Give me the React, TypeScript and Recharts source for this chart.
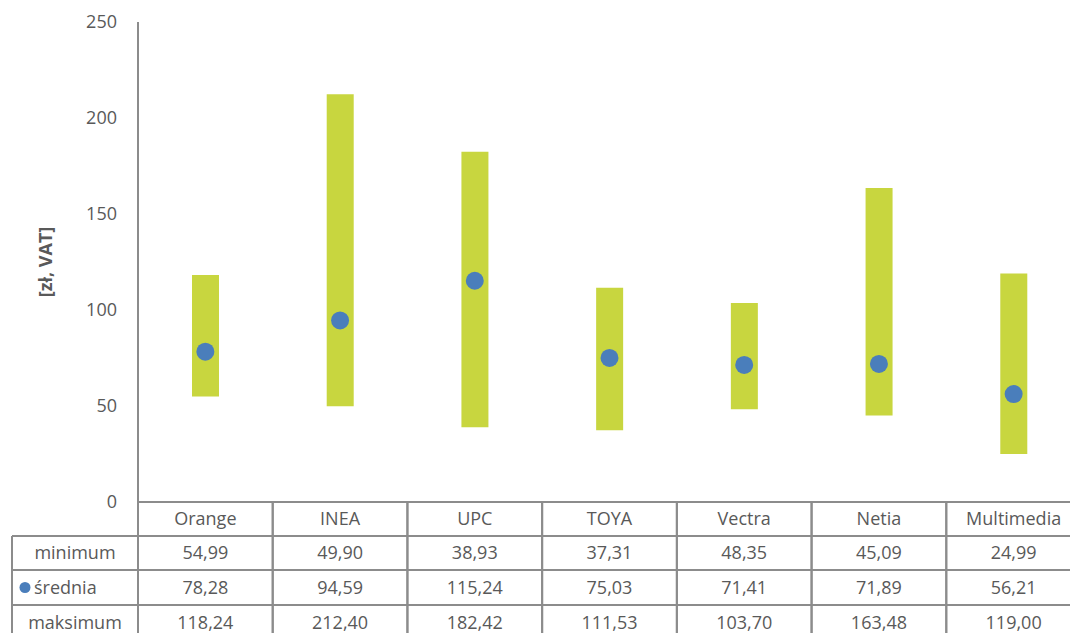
import { ComposedChart, Bar, Scatter, XAxis, YAxis, Label } from "recharts"

const operators = ["Orange", "INEA", "UPC", "TOYA", "Vectra", "Netia", "Multimedia"]
const minimum = [54.99, 49.9, 38.93, 37.31, 48.35, 45.09, 24.99]
const srednia = [78.28, 94.59, 115.24, 75.03, 71.41, 71.89, 56.21]
const maksimum = [118.24, 212.4, 182.42, 111.53, 103.7, 163.48, 119.0]
const yTicks = [0, 50, 100, 150, 200, 250]
const rowNames = ["minimum", "średnia", "maksimum"]

const GREEN = "#C8D63F"
const BLUE = "#4A7EBB"
const GRID = "#8C8C8C"
const TEXT = "#595959"
const FONT = "'Open Sans', sans-serif"
const FS = 18

const data = operators.map((name, i) => ({
  name,
  range: [minimum[i], maksimum[i]],
  mean: srednia[i],
}))

const fmt = (v: number) => v.toFixed(2).replace(".", ",")

// table rows under the plot (y of each horizontal line)
const AXIS_Y = 502
const ROW_LINES = [536, 570, 605, 640]
const LEFT_X = 12

function TableTick(props: any) {
  const { x, payload } = props
  const i = payload.index
  const half = payload.offset || 134.7 / 2
  const left = x - half
  const right = x + half
  const rows = [operators[i], fmt(minimum[i]), fmt(srednia[i]), fmt(maksimum[i])]
  const tops = [AXIS_Y, ...ROW_LINES]
  return (
    <g>
      <line x1={left} x2={left} y1={AXIS_Y} y2={640} stroke={GRID} strokeWidth={2} />
      <line x1={right} x2={right} y1={AXIS_Y} y2={640} stroke={GRID} strokeWidth={2} />
      {ROW_LINES.map((ly) => (
        <line key={ly} x1={left} x2={right} y1={ly} y2={ly} stroke={GRID} strokeWidth={2} />
      ))}
      {rows.map((t, r) => (
        <text
          key={r}
          x={x}
          y={(tops[r] + tops[r + 1]) / 2}
          dy="0.36em"
          textAnchor="middle"
          fontSize={FS}
          fontFamily={FONT}
          fill={TEXT}
        >
          {t}
        </text>
      ))}
      {i === 0 && (
        <g>
          <line x1={LEFT_X} x2={LEFT_X} y1={ROW_LINES[0]} y2={640} stroke={GRID} strokeWidth={2} />
          {ROW_LINES.map((ly) => (
            <line key={ly} x1={LEFT_X} x2={left} y1={ly} y2={ly} stroke={GRID} strokeWidth={2} />
          ))}
          {rowNames.map((t, r) => {
            const cy = (ROW_LINES[r] + ROW_LINES[r + 1]) / 2
            if (r === 1) {
              return (
                <g key={r}>
                  <circle cx={LEFT_X + 13} cy={cy} r={5.5} fill={BLUE} />
                  <text x={LEFT_X + 22} y={cy} dy="0.36em" fontSize={FS} fontFamily={FONT} fill={TEXT}>
                    {t}
                  </text>
                </g>
              )
            }
            return (
              <text
                key={r}
                x={(LEFT_X + left) / 2}
                y={cy}
                dy="0.36em"
                textAnchor="middle"
                fontSize={FS}
                fontFamily={FONT}
                fill={TEXT}
              >
                {t}
              </text>
            )
          })}
        </g>
      )}
    </g>
  )
}

export default function App() {
  return (
    <div style={{ position: "absolute", left: 0, top: 0, width: 1070, height: 633, overflow: "hidden", background: "#fff" }}>
      <ComposedChart width={1081} height={660} data={data} margin={{ top: 22, right: 0, bottom: 0, left: 0 }}>
        <XAxis
          dataKey="name"
          height={158}
          axisLine={{ stroke: GRID, strokeWidth: 2 }}
          tickLine={false}
          tick={<TableTick />}
          interval={0}
        />
        <YAxis
          width={138}
          domain={[0, 250]}
          ticks={yTicks}
          tickLine={false}
          tickSize={0}
          tickMargin={21}
          axisLine={{ stroke: GRID, strokeWidth: 2 }}
          tick={{ fontSize: FS, fontFamily: FONT, fill: TEXT }}
        >
          <Label
            value="[zł, VAT]"
            angle={-90}
            position="insideLeft"
            offset={46}
            style={{ fontSize: 18, fontWeight: 700, fontFamily: FONT, fill: TEXT, textAnchor: "middle" }}
          />
        </YAxis>
        <Bar dataKey="range" fill={GREEN} barSize={27} isAnimationActive={false} />
        <Scatter
          dataKey="mean"
          fill={BLUE}
          isAnimationActive={false}
          shape={(p: any) => <circle cx={p.cx} cy={p.cy} r={9} fill={BLUE} />}
        />
      </ComposedChart>
    </div>
  )
}
